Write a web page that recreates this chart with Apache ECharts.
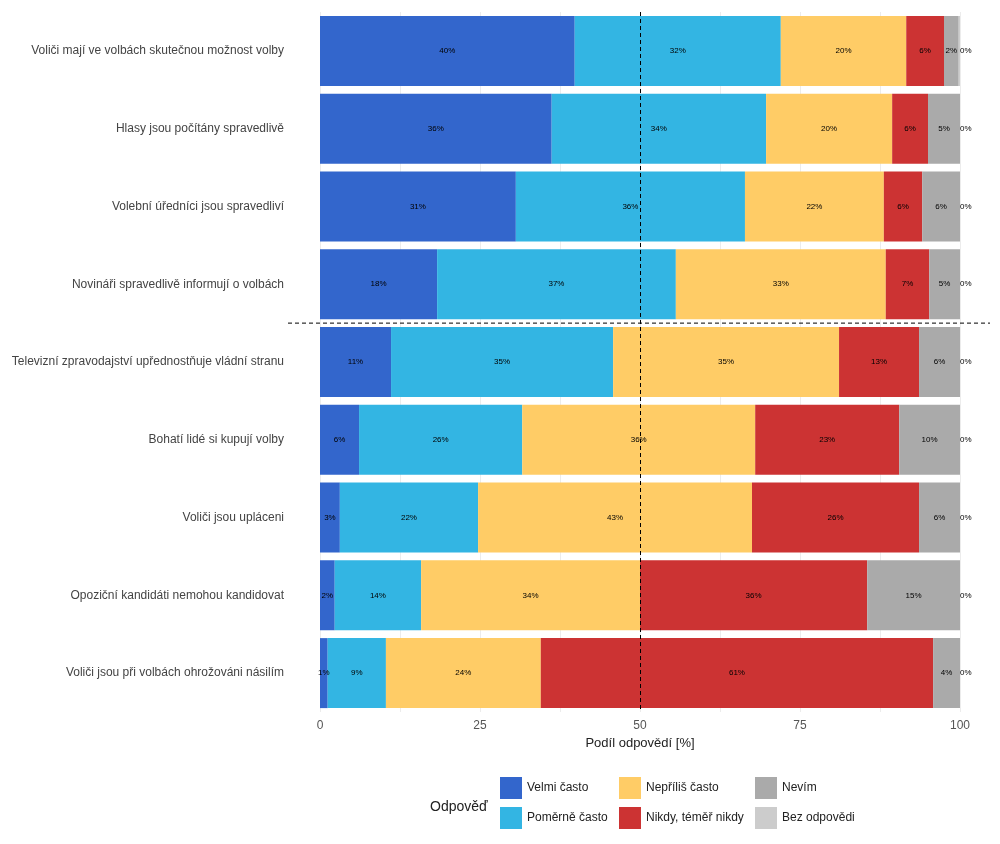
<!DOCTYPE html>
<html lang="cs">
<head>
<meta charset="UTF-8">
<title>Volby</title>
<script src="https://cdn.jsdelivr.net/npm/echarts@6/dist/echarts.min.js"></script>
</head>
<body style="margin:0">
<div id="chart1" style="width:1000px;height:844px;"></div>
<script type="text/javascript">
var categories = [
    'Voliči mají ve volbách skutečnou možnost volby',
    'Hlasy jsou počítány spravedlivě',
    'Volební úředníci jsou spravedliví',
    'Novináři spravedlivě informují o volbách',
    'Televizní zpravodajství upřednostňuje vládní stranu',
    'Bohatí lidé si kupují volby',
    'Voliči jsou upláceni',
    'Opoziční kandidáti nemohou kandidovat',
    'Voliči jsou při volbách ohrožováni násilím'
];
var seriesNames = ['Velmi často', 'Poměrně často', 'Nepříliš často', 'Nikdy, téměř nikdy', 'Nevím', 'Bez odpovědi'];
var velmi    = [39.8, 36.2, 30.6, 18.3, 11.1, 6.1, 3.1, 2.3, 1.2];
var pomerne  = [32.2, 33.5, 35.8, 37.3, 34.7, 25.5, 21.6, 13.5, 9.1];
var neprilis = [19.6, 19.7, 21.7, 32.8, 35.3, 36.4, 42.8, 34.2, 24.2];
var nikdy    = [5.9, 5.6, 6.0, 6.8, 12.5, 22.5, 26.1, 35.5, 61.3];
var nevim    = [2.3, 5.0, 5.9, 4.8, 6.4, 9.5, 6.4, 14.5, 4.2];
var bez      = [0.2, 0, 0, 0, 0, 0, 0, 0, 0];
var colors = ['#3366CC', '#33B5E3', '#FFCC66', '#CC3333', '#AAAAAA', '#CCCCCC'];
var xTicks = [0, 25, 50, 75, 100];

var chart1 = echarts.init(document.getElementById('chart1'));
var allData = [velmi, pomerne, neprilis, nikdy, nevim, bez];

var series = allData.map(function (d, i) {
    var s = {
        name: seriesNames[i],
        type: 'bar',
        stack: 'total',
        barCategoryGap: '10%',
        data: d,
        itemStyle: { color: colors[i] },
        label: {
            show: true,
            position: i === 5 ? 'right' : 'inside',
            distance: 0,
            color: '#000',
            fontSize: 8,
            formatter: function (p) { return Math.round(p.value) + '%'; }
        }
    };
    if (i === 0) {
        s.markLine = {
            silent: true, symbol: 'none',
            label: { show: false },
            lineStyle: { color: '#000', type: [4, 3], width: 1 },
            data: [{ xAxis: 50 }]
        };
    }
    return s;
});

function legendCol(names, left) {
    return {
        orient: 'vertical', left: left, top: 772, itemGap: 8,
        itemWidth: 22, itemHeight: 22,
        textStyle: { fontSize: 12, color: '#222' },
        data: names.map(function (n) { return { name: n, icon: 'rect' }; })
    };
}

var option = {
    backgroundColor: '#fff',
    animation: false,
    textStyle: { fontFamily: 'Liberation Sans, Arial, sans-serif' },
    title: {
        text: 'Odpověď', left: 425, top: 795,
        textStyle: { fontSize: 14, fontWeight: 'normal', color: '#222' }
    },
    grid: { left: 320, right: 40, top: 12, bottom: 132 },
    legend: [
        legendCol(seriesNames.slice(0, 2), 495),
        legendCol(seriesNames.slice(2, 4), 614),
        legendCol(seriesNames.slice(4, 6), 750)
    ],
    xAxis: {
        type: 'value', min: 0, max: 100, interval: 12.5,
        name: 'Podíl odpovědí [%]', nameLocation: 'middle', nameGap: 22,
        nameTextStyle: { fontSize: 13, color: '#222' },
        axisLine: { show: false }, axisTick: { show: false },
        axisLabel: {
            color: '#555', fontSize: 12,
            formatter: function (v) { return xTicks.indexOf(v) >= 0 ? v : ''; }
        },
        splitLine: { lineStyle: { color: '#ececec' } }
    },
    yAxis: {
        type: 'category', data: categories, inverse: true,
        axisLine: { show: false }, axisTick: { show: false },
        axisLabel: { color: '#444', fontSize: 12, margin: 36 },
        splitLine: { show: false }
    },
    series: series
};
chart1.setOption(option);

// horizontal dashed separator between 4th and 5th statement
var yA = chart1.convertToPixel({ yAxisIndex: 0 }, categories[3]);
var yB = chart1.convertToPixel({ yAxisIndex: 0 }, categories[4]);
var ySep = (yA + yB) / 2;
chart1.setOption({
    graphic: [{
        type: 'line', silent: true, z: 100,
        shape: { x1: 288, y1: ySep, x2: 990, y2: ySep },
        style: { stroke: '#000', lineWidth: 1, lineDash: [4, 3] }
    }]
});
</script>
</body>
</html>
